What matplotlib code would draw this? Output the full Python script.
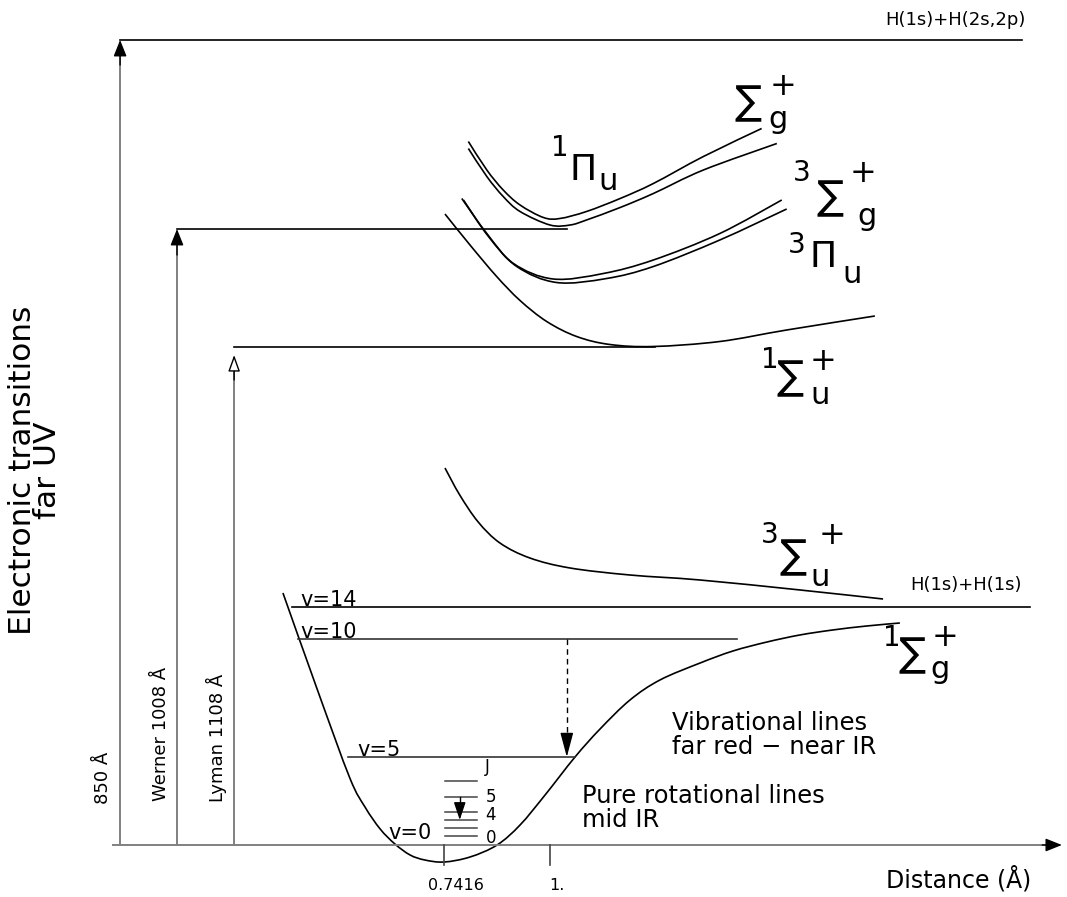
import matplotlib
matplotlib.use("Agg")
import matplotlib.pyplot as plt
from matplotlib.path import Path
from matplotlib.patches import PathPatch

# ---------------- data (r in Angstrom, E in eV-like diagram units) ----------------
# ground state X 1Sigma_g+
x_r = [0.349, 0.434, 0.512, 0.549, 0.586, 0.622, 0.659, 0.695, 0.742, 0.805, 0.871,
       0.927, 0.988, 1.061, 1.122, 1.195, 1.268, 1.366, 1.446, 1.529, 1.609, 1.689,
       1.772, 1.853]
x_E = [5.04, 3.08, 1.34, 0.76, 0.32, 0.02, -0.20, -0.30, -0.34, -0.24, 0.00,
       0.40, 1.00, 1.76, 2.32, 2.90, 3.30, 3.64, 3.88, 4.06, 4.20, 4.30,
       4.38, 4.44]

# repulsive b 3Sigma_u+
b_r = [0.744, 0.780, 0.825, 0.878, 0.951, 1.049, 1.195, 1.366, 1.610, 1.812]
b_E = [7.54, 7.00, 6.46, 6.04, 5.74, 5.54, 5.40, 5.30, 5.10, 4.92]

# B 1Sigma_u+
B_r = [0.744, 0.805, 0.870, 0.927, 0.992, 1.065, 1.146, 1.252, 1.414, 1.577, 1.792]
B_E = [12.62, 12.00, 11.37, 10.89, 10.47, 10.17, 10.01, 9.97, 10.07, 10.30, 10.58]

# 3Pi_u / 3Sigma_g+ pair
t1_r = [0.785, 0.846, 0.911, 1.008, 1.130, 1.252, 1.414, 1.565]
t1_E = [12.93, 12.23, 11.63, 11.32, 11.43, 11.70, 12.23, 12.90]
t2_r = [0.789, 0.850, 0.919, 1.016, 1.138, 1.252, 1.414, 1.577]
t2_E = [12.90, 12.17, 11.57, 11.25, 11.33, 11.57, 12.10, 12.72]

# 1Pi_u / Sigma_g+ pair
p1_r = [0.801, 0.846, 0.886, 0.927, 0.984, 1.024, 1.089, 1.171, 1.252, 1.374, 1.516]
p1_E = [14.07, 13.50, 13.10, 12.80, 12.55, 12.53, 12.67, 12.93, 13.23, 13.77, 14.33]
p2_r = [0.801, 0.846, 0.886, 0.927, 1.000, 1.049, 1.089, 1.171, 1.252, 1.374, 1.553]
p2_E = [13.93, 13.37, 12.97, 12.67, 12.40, 12.40, 12.50, 12.75, 13.03, 13.50, 14.03]

# energy levels
E_top = 16.10          # H(1s)+H(2s,2p)
E_diss = 4.76          # H(1s)+H(1s) / v=14
E_werner = 12.32
E_lyman = 9.96
vib_levels = ["v=14", "v=10", "v=5", "v=0"]
vib_E = [4.76, 4.12, 1.76, 0.24]
rot_E = [1.28, 0.96, 0.66, 0.50, 0.34, 0.18]
rot_labels = ["J", "5", "4", "0"]
tick_r = [0.7416, 1.0]
tick_labels = ["0.7416", "1."]

# ---------------- figure ----------------
fig = plt.figure(figsize=(10.67, 8.97), dpi=100)
ax = fig.add_axes([0, 0, 1, 1])
ax.set_xlim(-0.3408, 2.2604)
ax.set_ylim(-1.04, 16.9)
ax.axis("off")

BLK = "black"
GRY = "#808080"
LW = 1.2


def smooth_curve(r, E, **kw):
    """Draw a smooth curve through the points (Catmull-Rom as cubic Bezier path)."""
    pts = list(zip(r, E))
    n = len(pts)
    verts = [pts[0]]
    codes = [Path.MOVETO]
    for i in range(n - 1):
        p0 = pts[i - 1] if i > 0 else pts[i]
        p1 = pts[i]
        p2 = pts[i + 1]
        p3 = pts[i + 2] if i + 2 < n else pts[i + 1]
        c1 = (p1[0] + (p2[0] - p0[0]) / 6.0, p1[1] + (p2[1] - p0[1]) / 6.0)
        c2 = (p2[0] - (p3[0] - p1[0]) / 6.0, p2[1] - (p3[1] - p1[1]) / 6.0)
        verts += [c1, c2, p2]
        codes += [Path.CURVE4] * 3
    ax.add_patch(PathPatch(Path(verts, codes), fill=False, **kw))


def head(x0, y0, x1, y1, fc="black", ec="black", hl=0.5, hw=0.2, ms=20):
    ax.annotate("", xy=(x1, y1), xytext=(x0, y0),
                arrowprops=dict(arrowstyle=f"-|>,head_length={hl},head_width={hw}",
                                fc=fc, ec=ec, lw=1.0, mutation_scale=ms,
                                shrinkA=0, shrinkB=0))

# axes lines
ax.plot([-0.065, 2.235], [0, 0], color=GRY, lw=1.4)
head(2.20, 0, 2.248, 0)
ax.plot([-0.048, -0.048], [0, 16.0], color=GRY, lw=1.4)
head(-0.048, 15.6, -0.048, 16.1)
ax.plot([-0.048, 2.151], [E_top, E_top], color=BLK, lw=LW)
ax.text(1.988, 16.50, "H(1s)+H(2s,2p)", fontsize=13, ha="center", va="center")

# Werner
ax.plot([0.0907, 0.0907], [0, 12.2], color=GRY, lw=1.4)
head(0.0907, 11.8, 0.0907, E_werner)
ax.plot([0.0907, 1.041], [E_werner, E_werner], color=BLK, lw=LW)
# Lyman
ax.plot([0.230, 0.230], [0, 9.6], color=GRY, lw=1.4)
head(0.230, 9.3, 0.230, 9.80, fc="white", hw=0.18)
ax.plot([0.230, 1.256], [E_lyman, E_lyman], color=BLK, lw=LW)

# ticks
for tr, tl, lx in zip(tick_r, tick_labels, [0.771, 1.017]):
    ax.plot([tr, tr], [0, -0.40], color="#444444", lw=1.2)
    ax.text(lx, -0.80, tl, fontsize=11.5, ha="center", va="center")

# curves
for r, E in [(x_r, x_E), (b_r, b_E), (B_r, B_E), (t1_r, t1_E), (t2_r, t2_E),
             (p1_r, p1_E), (p2_r, p2_E)]:
    smooth_curve(r, E, edgecolor=BLK, lw=LW)

# vibrational levels
ax.plot([0.371, 2.170], [vib_E[0], vib_E[0]], color=BLK, lw=LW)
ax.plot([0.386, 1.456], [vib_E[1], vib_E[1]], color="#333333", lw=LW)
ax.plot([0.507, 1.061], [vib_E[2], vib_E[2]], color="#333333", lw=LW)
ax.plot([1.041, 1.041], [vib_E[1], vib_E[2] + 0.3], color=BLK, lw=1.0, ls=(0, (4, 3)))
head(1.041, vib_E[2] + 0.35, 1.041, vib_E[2], hl=0.75, hw=0.2, ms=20)
for lab, E, lx in zip(vib_levels, [4.90, 4.26, 1.90, 0.24], [0.391, 0.391, 0.530, 0.605]):
    ax.text(lx, E, lab, fontsize=15, ha="left", va="center")

# rotational levels
for E in rot_E:
    ax.plot([0.744, 0.822], [E, E], color="#444444", lw=1.1)
ax.plot([0.780, 0.780], [0.96, 0.72], color=BLK, lw=1.0)
head(0.780, 0.75, 0.780, 0.50, hl=0.6, hw=0.2, ms=18)
for lab, (lx, ly) in zip(rot_labels, [(0.847, 1.56), (0.856, 0.97), (0.856, 0.60), (0.856, 0.14)]):
    ax.text(lx, ly, lab, fontsize=12, ha="center", va="center")

# dissociation label
ax.text(2.014, 5.20, "H(1s)+H(1s)", fontsize=13, ha="center", va="center")


def term(mult, mpos, sym, spos, sup, suppos, sub, subpos, symsize=29):
    if mult:
        ax.text(*mpos, mult, fontsize=20, ha="center", va="center")
    ax.text(*spos, sym, fontsize=symsize, ha="center", va="center")
    if sup:
        ax.text(*suppos, sup, fontsize=23, ha="center", va="center")
    ax.text(*subpos, sub, fontsize=22, ha="center", va="center")

term("1", (1.024, 13.94), "Π", (1.080, 13.50), None, None, "u", (1.141, 13.26), symsize=26)
term(None, None, "∑", (1.483, 14.84), "+", (1.568, 15.16), "g", (1.556, 14.50))
term("3", (1.614, 13.44), "∑", (1.682, 12.94), "+", (1.763, 13.44), "g", (1.773, 12.56))
term("3", (1.602, 12.00), "Π", (1.666, 11.76), None, None, "u", (1.736, 11.40), symsize=26)
term("1", (1.536, 9.70), "∑", (1.585, 9.34), "+", (1.666, 9.66), "u", (1.658, 9.00))
term("3", (1.536, 6.20), "∑", (1.592, 5.76), "+", (1.687, 6.20), "u", (1.658, 5.36))
term("1", (1.834, 4.14), "∑", (1.882, 3.80), "+", (1.963, 4.14), "g", (1.951, 3.50))

# descriptive texts
ax.text(1.297, 2.20, "Vibrational lines\nfar red − near IR", fontsize=17.5, ha="left",
        va="center", linespacing=0.95)
ax.text(1.078, 0.74, "Pure rotational lines\nmid IR", fontsize=17.5, ha="left",
        va="center", linespacing=0.95)
ax.text(1.997, -0.68, "Distance (Å)", fontsize=17, ha="center", va="center")
ax.text(-0.256, 7.5, "Electronic transitions\nfar UV", fontsize=22.5, ha="center",
        va="center", rotation=90, linespacing=0.85)
ax.text(-0.0898, 1.34, "850 Å", fontsize=13, ha="center", va="center", rotation=90)
ax.text(0.052, 2.22, "Werner 1008 Å", fontsize=13, ha="center", va="center", rotation=90)
ax.text(0.188, 2.14, "Lyman 1108 Å", fontsize=13, ha="center", va="center", rotation=90)

fig.savefig("out.png", dpi=100)
